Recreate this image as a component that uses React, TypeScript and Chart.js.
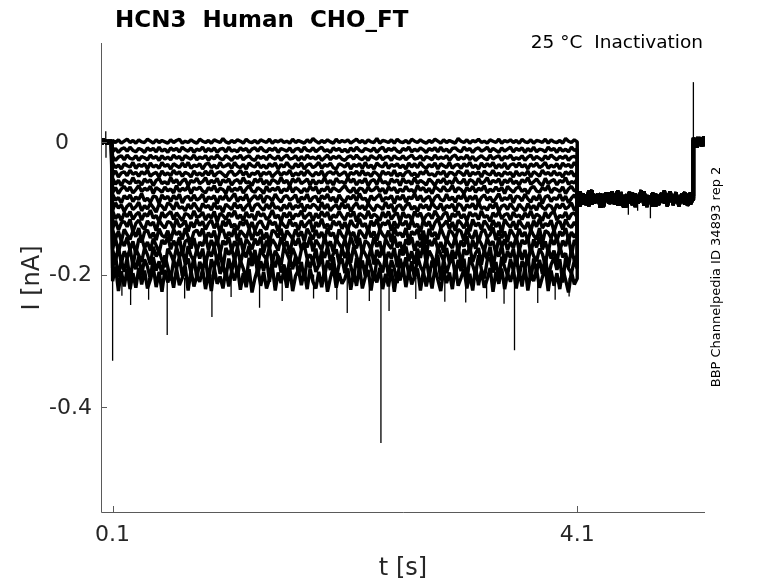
import React, { useEffect, useRef } from "react";
import { Chart, registerables } from "chart.js";

Chart.register(...registerables);

// ---- axis ticks ----
const xTickValues = [0.1, 4.1];
const xTickLabels = ["0.1", "4.1"];
const yTickValues = [0, -0.2, -0.4];
const yTickLabels = ["0", "-0.2", "-0.4"];

// ---- sweep data (currents in pA, times in s) ----
const headT = [0, 0.01, 0.02, 0.03, 0.04, 0.05, 0.06, 0.07, 0.08, 0.09];
const headV = [2, -3, 4, -1, 3, -4, 1, -2, 3, -1];

const preT = [
  0.1, 0.125, 0.15, 0.175, 0.2, 0.225, 0.25, 0.275, 0.3, 0.325, 0.35, 0.375, 0.4, 0.425, 0.45, 0.475, 0.5, 0.525, 0.55, 0.575,
  0.6, 0.625, 0.65, 0.675, 0.7, 0.725, 0.75, 0.775, 0.8, 0.825, 0.85, 0.875, 0.9, 0.925, 0.95, 0.975, 1, 1.025, 1.05, 1.075,
  1.1, 1.125, 1.15, 1.175, 1.2, 1.225, 1.25, 1.275, 1.3, 1.325, 1.35, 1.375, 1.4, 1.425, 1.45, 1.475, 1.5, 1.525, 1.55, 1.575,
  1.6, 1.625, 1.65, 1.675, 1.7, 1.725, 1.75, 1.775, 1.8, 1.825, 1.85, 1.875, 1.9, 1.925, 1.95, 1.975, 2, 2.025, 2.05, 2.075,
  2.1, 2.125, 2.15, 2.175, 2.2, 2.225, 2.25, 2.275, 2.3, 2.325, 2.35, 2.375, 2.4, 2.425, 2.45, 2.475, 2.5, 2.525, 2.55, 2.575,
  2.6, 2.625, 2.65, 2.675, 2.7, 2.725, 2.75, 2.775, 2.8, 2.825, 2.85, 2.875, 2.9, 2.925, 2.95, 2.975, 3, 3.025, 3.05, 3.075,
  3.1, 3.125, 3.15, 3.175, 3.2, 3.225, 3.25, 3.275, 3.3, 3.325, 3.35, 3.375, 3.4, 3.425, 3.45, 3.475, 3.5, 3.525, 3.55, 3.575,
  3.6, 3.625, 3.65, 3.675, 3.7, 3.725, 3.75, 3.775, 3.8, 3.825, 3.85, 3.875, 3.9, 3.925, 3.95, 3.975, 4, 4.025, 4.05, 4.075,
  4.1,
];

const sweepLevels = [0, -12, -24, -36, -48, -60, -72, -85, -98, -111, -124, -138, -152, -167, -182, -200];

const dev0 = [
  2, -1, 3, -2, 1, 4, -1, 2, -2, 3, 0, -1, 4, 1, -2, 3, -1, 2, 0, -2,
  3, -1, 2, 4, -2, 1, -1, 3, 0, -2, 4, 1, -1, 2, -2, 3, 1, -1, 5, 0,
  -2, 2, -1, 3, 1, -2, 4, 0, -1, 2, -2, 3, 1, -1, 4, -2, 2, 0, 3, -1,
  1, -2, 4, -1, 2, 0, -2, 3, -1, 5, 1, -2, 2, -1, 3, 0, -2, 4, -1, 2,
  0, 3, -2, 1, 4, -1, 2, -2, 3, 0, -1, 5, -2, 2, 1, -1, 3, -2, 4, 0,
  -1, 2, -2, 4, 1, -1, 3, 0, -2, 2, -1, 4, 1, -2, 3, -1, 2, 0, -2, 5,
  1, -1, 3, -2, 2, 0, 4, -1, 1, -2, 3, 1, -1, 4, -2, 2, 0, 3, -1, 2,
  -2, 4, 0, -1, 3, -2, 2, 1, -1, 4, -2, 3, 0, -1, 2, -2, 5, 1, -1, 3,
  0,
];
const dev1 = [
  -3, 2, -4, 1, 3, -2, 4, -1, -3, 2, 0, -4, 3, -1, 2, -3, 4, -2, 1, -4,
  3, -1, 2, -3, 4, 0, -2, 3, -4, 1, -1, 4, -3, 2, -2, 3, -4, 1, 2, -3,
  4, -2, 0, -3, 3, -1, 2, -4, 1, 3, -2, 4, -1, -3, 2, -1, 3, -4, 2, 0,
  -2, 3, -4, 1, 2, -3, 4, -1, -2, 3, -3, 1, 4, -2, 0, -4, 3, -1, 2, -3,
  1, -4, 3, -2, 4, -1, -3, 2, 0, -2, 3, -4, 1, 4, -3, 2, -1, 3, -2, -4,
  2, -1, 4, -3, 1, -2, 3, 0, -4, 2, -1, 3, -3, 4, -2, 1, -4, 2, 3, -1,
  -3, 4, -1, 2, -4, 1, 3, -2, 0, 4, -3, 2, -1, -4, 3, -2, 1, 4, -3, 2,
  -1, 3, -4, 2, -2, 4, -3, 1, 0, -3, 4, -1, 2, -4, 3, -2, 1, -3, 4, -1,
  1,
];
const dev2 = [
  2, -4, 1, 3, -3, 4, -1, -2, 3, -4, 2, 0, -3, 4, -1, 2, -4, 3, -2, 1,
  -3, 4, -1, 2, -4, 3, 0, -2, 4, -3, 1, -1, 3, -4, 2, -2, 4, -1, -3, 3,
  0, -4, 2, -1, 4, -3, 1, 3, -2, -4, 3, -1, 2, -3, 4, 0, -2, 3, -4, 1,
  4, -2, -1, 3, -4, 2, -3, 4, -1, 1, -2, 3, -4, 0, 4, -3, 2, -1, 3, -2,
  -4, 1, 3, -2, 4, -1, -3, 2, -4, 3, 0, -2, 4, -3, 1, 2, -4, 3, -1, -2,
  3, -3, 1, 4, -2, -1, 3, -4, 2, 0, -3, 4, -2, 1, -1, 3, -4, 2, 4, -3,
  1, -2, 4, -3, 2, -4, 0, 3, -1, -3, 4, -2, 1, 3, -4, 2, -1, 4, -3, 0,
  -2, 3, -4, 1, 4, -3, 2, -1, -4, 3, -2, 4, 0, -3, 2, -1, 3, -4, 1, 2,
  -1,
];
const dev3 = [
  4, -3, 1, -5, 3, 0, -2, 5, -4, 2, -1, 3, -5, 4, -2, 1, -4, 5, -1, 2,
  -5, 3, 0, -3, 4, -2, 5, -4, 1, -1, 3, -5, 2, 4, -3, 1, -4, 5, -2, 0,
  3, -4, 5, -1, -3, 2, -5, 4, 0, -2, 5, -3, 1, -4, 3, -1, 4, -5, 2, -2,
  5, -1, -4, 3, -2, 4, -5, 1, 3, -3, 0, 5, -4, 2, -1, 4, -3, -5, 3, 1,
  -2, 4, -5, 2, -1, 3, -4, 5, -3, 1, -5, 4, 0, -2, 5, -4, 2, -1, 3, -3,
  1, -5, 4, -2, 3, -3, 5, -1, -4, 2, -2, 4, -5, 3, 0, -3, 5, -4, 1, 2,
  -4, 3, -1, 5, -3, 1, -5, 4, -2, 3, -1, 5, -4, 2, -3, 4, -5, 1, 3, -2,
  4, -2, 2, -5, 3, -1, 4, -3, 0, 5, -4, 1, -2, 3, -5, 4, -1, 2, -3, 5,
  -1,
];
const dev4 = [
  -2, 4, -5, 1, 3, -3, 5, -1, 2, -4, 3, -1, 5, -4, 0, 2, -5, 4, -2, 1,
  -3, 5, -1, 3, -4, 2, 0, -5, 4, -2, 1, -3, 4, -2, 5, -4, 1, 3, -1, -5,
  2, 4, -3, 0, 5, -2, 3, -5, 1, -1, 4, -4, 2, -1, 3, -5, 0, 4, -3, 2,
  -1, 5, -4, 1, -2, 3, -3, 5, 0, -4, 2, -2, 4, -5, 1, 3, -1, 4, -3, 0,
  3, -5, 2, -1, 4, -3, 5, -2, 1, -4, 3, 0, -5, 4, -1, 2, -3, 5, -4, 1,
  -4, 2, 4, -3, 1, -5, 3, -1, 5, -2, 0, -4, 3, -1, 4, -5, 2, 1, -3, 4,
  1, -3, 5, -4, 2, -1, 3, -5, 4, 0, -2, 5, -3, 1, -4, 3, -1, 2, -5, 4,
  -3, 1, -2, 4, -5, 3, 0, -4, 5, -1, 2, -3, 4, -2, 1, -5, 3, -1, 4, -4,
  2,
];
const dev5 = [
  5, -4, 2, -6, 3, 0, -3, 6, -2, 1, -5, 4, -1, 3, -6, 2, 5, -3, 0, -4,
  6, -2, 3, -5, 1, 4, -6, 2, -1, 5, -3, 0, 6, -4, 2, -2, 5, -6, 3, -1,
  4, -5, 1, 3, -3, 6, -2, 0, -6, 4, -1, 5, -4, 2, -5, 3, 1, -3, 6, -2,
  2, -6, 4, -1, 5, -3, 0, 4, -5, 3, -4, 1, -2, 6, -3, 2, -5, 5, -1, 0,
  -3, 6, -1, 4, -5, 2, -2, 5, -6, 1, 3, -4, 6, -2, 0, -5, 4, -1, 3, -6,
  5, -2, 1, -4, 6, -3, 2, -1, -5, 4, 0, -6, 3, -2, 5, -4, 1, -3, 6, -1,
  -2, 4, -6, 3, 1, -5, 5, -3, 0, 6, -4, 2, -1, 4, -6, 3, -2, 5, -3, 1,
  -5, 3, -1, 6, -4, 0, 4, -2, -6, 5, -3, 1, 3, -5, 2, -1, 6, -4, 0, -2,
  4,
];
const dev6 = [
  -4, 3, -6, 1, 5, -2, 4, -5, 0, 6, -3, 2, -1, 5, -6, 3, 0, -4, 4, -2,
  1, -5, 6, -3, 2, -1, 5, -6, 3, 0, 4, -2, -5, 3, -1, 6, -4, 2, 0, -6,
  5, -3, 2, -1, 4, -5, 1, 6, -2, -4, 3, 0, -6, 5, -3, 2, -1, 4, -5, 1,
  -2, 6, -4, 3, 0, -5, 2, -3, 5, -1, 4, -6, 1, -2, 5, -4, 3, 0, -3, 2,
  6, -1, -4, 3, -6, 2, 1, -5, 4, -2, 0, 5, -3, 2, -6, 4, -1, 3, -5, 1,
  -3, 5, -2, 0, -5, 6, -1, 3, -4, 2, -6, 4, 1, -3, 5, -2, -1, 6, -4, 3,
  0, -6, 3, -2, 5, -4, 2, -1, 6, -5, 1, -3, 4, -2, 3, -6, 5, 0, -4, 2,
  4, -3, 1, -6, 2, 5, -2, -4, 3, -1, 6, -5, 2, 0, -3, 4, -6, 1, 5, -2,
  -1,
];
const dev7 = [
  6, -3, 1, -7, 4, -1, 5, -5, 2, -2, 7, -4, 0, -6, 3, 2, -8, 5, -1, 3,
  -5, 4, -2, 6, -7, 1, 3, -4, 5, -3, 0, 6, -6, 2, -1, 4, -8, 3, -2, 5,
  -4, 1, 7, -5, 2, -3, 6, -6, 0, 4, -2, 5, -7, 3, 1, -4, 6, -1, -6, 2,
  4, -3, 0, 5, -7, 2, -2, 6, -5, 1, 3, -6, 4, -1, 6, -4, 2, -7, 5, -2,
  -6, 3, -1, 5, -4, 7, -2, 0, -7, 4, -3, 2, 6, -5, 1, -1, 4, -8, 3, -2,
  5, -6, 2, -1, 7, -3, 4, -5, 0, 3, -7, 1, 5, -2, -4, 6, -3, 2, -6, 4,
  -1, 6, -5, 3, -2, 4, -7, 1, 5, -3, 2, -6, 0, 7, -4, 1, -2, 5, -7, 3,
  2, -4, 6, -1, -6, 3, -3, 5, -8, 2, 4, -5, 1, -2, 6, -4, 3, -7, 0, 5,
  -2,
];
const dev8 = [
  -5, 6, -2, 3, -7, 1, 5, -4, 0, 7, -6, 2, -3, 5, -1, -8, 4, 1, -5, 6,
  3, -4, 7, -2, 0, -6, 4, -3, 6, -1, -7, 5, -1, 2, -5, 6, -3, 1, -8, 4,
  0, -4, 6, -2, 3, -6, 1, 5, -7, 2, 5, -1, -5, 4, -3, 7, -2, 0, -6, 3,
  -3, 6, -4, 2, -1, 5, -7, 3, -2, 4, 1, -5, 7, -3, 4, -6, 0, 3, -4, 6,
  -2, 4, -7, 1, 6, -3, 2, -5, 5, -1, -6, 3, 0, -4, 7, -2, 4, -8, 1, 3,
  -5, 2, 6, -4, 1, -7, 4, -2, 3, -5, 6, 0, -3, 5, -6, 2, -1, 4, -7, 5,
  2, -6, 3, -1, 5, -4, 7, -3, 0, -5, 4, -2, 6, -7, 1, 3, -4, 5, -2, -6,
  4, -1, -6, 5, -3, 2, -5, 6, -1, -4, 3, 1, -7, 4, -2, 5, -3, 0, 6, -5,
  1,
];
const dev9 = [
  7, -5, 2, -8, 4, -2, 6, -6, 1, 5, -7, 3, -1, 8, -4, 0, -9, 5, -3, 2,
  6, -6, 4, -2, -8, 3, 1, -5, 7, -3, -1, 5, -7, 2, -4, 6, -10, 3, 0, -6,
  4, -2, 7, -5, 1, -8, 5, -3, 2, -7, 6, -1, 3, -6, -2, 8, -4, 1, -9, 4,
  -3, 5, -6, 2, -1, 7, -5, 0, 4, -8, 3, -4, 6, -2, 5, -7, 1, -3, 6, -1,
  -7, 4, -2, 6, -9, 3, 0, -5, 7, -4, 2, -1, -8, 5, -3, 6, -6, 1, 4, -10,
  5, -3, 1, -7, 6, -2, 4, -8, 0, 3, -5, 7, -1, -6, 2, 5, -9, 3, -2, 6,
  -4, 2, -8, 5, -1, 3, -6, 7, -3, 0, -9, 4, -2, 6, -5, 1, 3, -7, 5, -2,
  1, -6, 4, -3, 7, -5, 2, -1, -8, 5, -4, 3, 6, -7, 0, -3, 5, -6, 2, 4,
  -3,
];
const dev10 = [
  -6, 5, -9, 2, 4, -4, 7, -12, 1, 6, -3, -8, 5, -2, 3, -10, 6, -1, -6, 4,
  2, -7, 8, -4, -1, 5, -11, 3, -5, 7, -2, 4, -8, 1, 6, -6, 2, -13, 5, -3,
  7, -5, 0, -9, 4, -2, 6, -7, 3, -10, 1, 5, -4, -8, 6, -1, 3, -11, 4, -2,
  -6, 7, -3, 2, -9, 5, -5, 1, 6, -12, 3, -4, 8, -6, 0, -8, 5, -2, 4, -7,
  3, -9, 6, -2, -5, 8, -4, 1, -11, 5, -3, 7, -7, 2, -1, 6, -10, 4, -6, 3,
  -2, 5, -8, 7, -4, 0, -12, 6, -3, 4, -9, 2, 8, -5, -1, 5, -7, 3, -10, 6,
  1, -6, 4, -11, 7, -3, 2, -8, 5, -1, -9, 6, -4, 3, -13, 7, 0, -5, 4, -8,
  6, -2, -7, 3, -10, 5, -4, 8, -6, 1, -3, 6, -11, 2, 4, -8, 7, -2, -5, 3,
  -4,
];
const dev11 = [
  5, -8, 3, -12, 6, -2, -9, 4, -5, 8, -14, 2, 5, -7, 1, -10, 7, -3, -6, 4,
  -11, 6, -2, 3, -9, 8, -5, -13, 2, 5, -4, 7, -10, 1, -6, 4, -15, 3, 6, -8,
  2, -5, 8, -12, 4, -1, -7, 6, -10, 3, -3, 6, -9, 1, -14, 5, 2, -6, 7, -11,
  4, -2, -8, 6, -5, 3, -12, 7, -1, -9, 5, -7, 2, -10, 8, -4, 1, -13, 6, -3,
  -9, 7, -4, 2, -15, 5, -1, -8, 8, -6, 3, -11, 6, -2, -7, 4, -13, 9, -3, 1,
  -6, 8, -12, 3, -2, 6, -10, 4, -16, 7, -5, 2, -9, 8, -3, -12, 5, 1, -8, 6,
  3, -11, 7, -4, -8, 5, -14, 2, 6, -6, -2, 9, -10, 4, -7, 3, -13, 6, -1, -9,
  7, -5, 2, -12, 6, -3, -9, 8, -15, 4, 1, -7, 5, -11, 3, -4, 8, -10, 2, -6,
  2,
];
const dev12 = [
  -9, 6, -14, 3, -5, 8, -11, 2, -17, 5, 7, -8, 1, -12, 6, -4, -15, 4, -2, 9,
  -10, 3, -6, 8, -18, 2, 5, -9, 7, -13, 1, -5, 9, -11, 4, -7, 6, -16, 3, -3,
  8, -12, 2, -6, 7, -14, 5, -1, -10, 6, -4, 9, -15, 3, -8, 5, -2, -12, 8, -6,
  2, -17, 6, -4, 7, -10, 1, -7, 9, -13, 4, -3, -11, 8, -6, 2, -14, 6, -2, -9,
  5, -13, 9, -4, -8, 7, -16, 3, -1, -11, 8, -6, 2, -19, 6, -3, -9, 10, -7, 1,
  -14, 5, -3, 8, -12, 2, -7, 9, -18, 4, -5, 7, -10, 1, -15, 6, -2, -8, 9, -13,
  3, -6, 10, -15, 4, -9, 6, -2, -13, 7, -4, 2, -17, 8, -6, 5, -11, 1, -8, 9,
  -12, 4, -2, 7, -16, 5, -7, 9, -10, 2, -14, 6, -3, 8, -12, 3, -5, 10, -19, 4,
  -3,
];
const dev13 = [
  4, -12, 8, -16, 2, -8, 6, -20, 5, -4, -14, 7, -3, -18, 9, -6, 3, -11, -22, 6,
  -2, -13, 8, -7, 4, -17, 10, -5, -12, 5, -9, 6, -19, 3, -6, 9, -14, 1, -24, 7,
  -3, 5, -11, 8, -16, 2, -7, 10, -13, 4, -20, 6, -4, -10, 9, -15, 3, -6, -19, 8,
  -1, -12, 7, -5, -17, 4, 11, -9, -3, -14, 6, -21, 3, -8, 9, -13, -2, 5, -16, 7,
  -8, 3, -15, 9, -5, -20, 6, -2, -11, 8, -18, 4, -7, 10, -14, 1, -9, 7, -22, 5,
  -4, 9, -13, 2, -17, 6, -8, 11, -15, 3, -6, -21, 8, -2, -12, 7, -16, 4, -9, 10,
  -19, 5, -3, 8, -14, -1, 7, -18, 4, -10, 9, -23, 3, -6, 11, -15, 2, -8, 6, -20,
  7, -11, 4, -17, 9, -5, -13, 6, -2, -19, 8, -9, 3, -15, 10, -7, -1, -21, 5, -12,
  -4,
];
const dev14 = [
  -8, 10, -22, 4, -14, 7, -28, 3, -10, 9, -19, 5, -6, -25, 8, -12, 2, -18, 11, -7,
  -27, 4, -9, 8, -20, -3, 6, -16, 9, -24, 1, -11, 7, -30, 5, -8, 10, -17, -4, -22,
  6, -14, 9, -21, 3, -9, -26, 7, -5, 11, -18, 2, -12, 8, -29, 4, -7, 10, -15, -3,
  -23, 6, -10, 9, -19, 1, -27, 5, -8, 7, -14, -4, 10, -20, 3, -11, 8, -25, -2, 6,
  -16, 9, -5, -24, 7, -12, 3, -20, 10, -8, -28, 5, -2, -15, 11, -21, 4, -9, -31, 6,
  -11, 8, -19, 2, -25, 10, -6, -14, 7, -22, 3, -9, 12, -27, 5, -16, -1, 9, -20, 4,
  -13, 6, -29, 8, -4, -18, 11, -10, -24, 3, 7, -15, 1, -26, 9, -7, -19, 5, -12, 10,
  -21, 2, -8, 11, -27, 6, -14, 4, -17, 9, -23, -3, 8, -11, 5, -30, 7, -9, -16, 3,
  -9,
];
const dev15 = [
  -10, 12, -25, 5, -18, 8, -22, 2, -20, 10, -15, 6, -21, -8, 11, -19, 4, -26, 7, -12,
  3, -20, 9, -16, -5, 12, -24, 6, -18, -2, -11, 8, -22, 4, -25, 10, -14, -3, -21, 7,
  -18, 5, -9, 11, -23, 2, -19, 8, -27, -6, 9, -17, 4, -21, -7, 12, -24, 3, -13, 6,
  -20, 10, -25, -2, 7, -16, 5, -22, 9, -11, -21, 4, -19, 8, -26, -5, 11, -20, 2, -14,
  -6, 9, -23, 3, -17, 12, -21, -4, 7, -24, 5, -12, 10, -22, 1, -18, 8, -26, 4, -9,
  11, -19, 6, -15, -3, 9, -24, 5, -18, 2, -21, 10, -8, -25, 7, -13, 3, -22, 12, -17,
  -5, 8, -21, 1, -24, 11, -16, 6, -20, -7, 10, -26, 4, -14, 9, -22, 2, -11, 7, -21,
  5, -18, 12, -24, 3, -10, 8, -20, -4, 11, -25, 6, -17, 2, -22, 9, -8, -27, 4, -15,
  -6,
];

const testT = [
  4.1, 4.125, 4.15, 4.175, 4.2, 4.225, 4.25, 4.275, 4.3, 4.325, 4.35, 4.375, 4.4, 4.425, 4.45, 4.475, 4.5, 4.525, 4.55, 4.575,
  4.6, 4.625, 4.65, 4.675, 4.7, 4.725, 4.75, 4.775, 4.8, 4.825, 4.85, 4.875, 4.9, 4.925, 4.95, 4.975, 5, 5.025, 5.05, 5.075,
  5.1,
];
const testA = [
  -76, -91, -79, -95, -83, -73, -92, -86, -78, -98, -82, -89, -75, -94, -84, -79, -99, -85, -76, -93,
  -83, -90, -73, -96, -81, -88, -77, -97, -84, -78, -92, -86, -75, -95, -82, -90, -79, -94, -85, -77,
  -88,
];
const testB = [
  -87, -75, -94, -80, -97, -74, -89, -83, -99, -79, -88, -77, -93, -82, -74, -96, -85, -80, -92, -77,
  -98, -81, -89, -76, -93, -83, -97, -79, -94, -86, -74, -97, -82, -90, -78, -94, -84, -76, -96, -88,
  -82,
];
const testC = [
  -81, -97, -78, -89, -74, -94, -85, -79, -99, -84, -77, -93, -86, -80, -96, -76, -90, -98, -82, -95,
  -78, -92, -85, -75, -98, -81, -89, -79, -95, -86, -77, -94, -83, -92, -76, -97, -82, -89, -79, -94,
  -85,
];

const tailT = [5.1, 5.11, 5.12, 5.13, 5.14, 5.15, 5.16, 5.17, 5.18, 5.19, 5.2];
const tailA = [3, -6, 5, -2, 7, -4, 2, -7, 4, -1, 6];
const tailB = [-5, 4, -8, 6, -2, 5, -6, 3, -4, 8, -1];
const tailC = [6, -3, 2, -9, 5, -1, 7, -5, 1, -6, 3];

// brief transients: [time s, from pA, to pA]
const spikes: [number, number, number][] = [
  [0.041, 0, 16], [0.043, 0, -24],
  [0.1, 0, -330],
  [0.18, -205, -232], [0.255, -200, -246], [0.41, -205, -238], [0.57, -190, -291], [0.72, -205, -236],
  [0.955, -200, -264], [1.12, -205, -234], [1.365, -200, -250], [1.56, -205, -240], [1.83, -200, -236],
  [2.03, -205, -238], [2.12, -200, -258], [2.31, -205, -240], [2.41, -200, -454], [2.48, -190, -255],
  [2.71, -205, -237], [2.96, -205, -241], [3.14, -200, -242], [3.32, -205, -236], [3.47, -205, -244],
  [3.56, -190, -314], [3.76, -205, -243], [3.91, -205, -238], [4.03, -205, -233],
  [4.54, -90, -110], [4.73, -90, -115], [4.62, -90, -104],
  [5.1, -85, 90],
];

const deviations = [dev0, dev1, dev2, dev3, dev4, dev5, dev6, dev7, dev8, dev9, dev10, dev11, dev12, dev13, dev14, dev15];
const testSets = [testA, testB, testC];
const tailSets = [tailA, tailB, tailC];

function buildSweep(k: number) {
  const pts: { x: number; y: number }[] = [];
  headT.forEach((t, i) => pts.push({ x: t, y: headV[i] / 1000 }));
  const dev = deviations[k];
  const n = Math.min(preT.length, dev.length);
  for (let i = 0; i < n; i++) pts.push({ x: preT[i], y: (sweepLevels[k] + dev[i]) / 1000 });
  const tv = testSets[k % 3];
  const nt = Math.min(testT.length, tv.length);
  for (let i = 0; i < nt; i++) pts.push({ x: testT[i], y: tv[i] / 1000 });
  const tl = tailSets[k % 3];
  tailT.forEach((t, i) => pts.push({ x: t, y: tl[i] / 1000 }));
  return pts;
}

const FONT = '"DejaVu Sans", sans-serif';

const textPlugin = {
  id: "matlabText",
  afterDraw(chart: any) {
    const ctx = chart.ctx as CanvasRenderingContext2D;
    const area = chart.chartArea;
    const xs = chart.scales.x;
    const ys = chart.scales.y;
    ctx.save();
    ctx.strokeStyle = "#5a5a5a";
    ctx.lineWidth = 1;
    ctx.beginPath();
    ctx.moveTo(area.left + 0.5, area.top);
    ctx.lineTo(area.left + 0.5, area.bottom + 0.5);
    ctx.lineTo(area.right, area.bottom + 0.5);
    ctx.stroke();
    ctx.beginPath();
    xTickValues.forEach((v) => {
      const px = Math.round(xs.getPixelForValue(v)) + 0.5;
      ctx.moveTo(px, area.bottom);
      ctx.lineTo(px, area.bottom - 6);
    });
    yTickValues.forEach((v) => {
      const py = Math.round(ys.getPixelForValue(v)) + 0.5;
      ctx.moveTo(area.left, py);
      ctx.lineTo(area.left + 6, py);
    });
    ctx.stroke();

    ctx.fillStyle = "#262626";
    ctx.font = `22px ${FONT}`;
    ctx.textAlign = "center";
    ctx.textBaseline = "alphabetic";
    xTickValues.forEach((v, i) => {
      ctx.fillText(xTickLabels[i], xs.getPixelForValue(v), area.bottom + 29);
    });
    ctx.textAlign = "right";
    ctx.textBaseline = "middle";
    yTickValues.forEach((v, i) => {
      const right = v === 0 ? area.left - 32 : area.left - 9;
      ctx.fillText(yTickLabels[i], right, ys.getPixelForValue(v) + 1);
    });

    ctx.font = `24px ${FONT}`;
    ctx.textAlign = "center";
    ctx.textBaseline = "alphabetic";
    ctx.fillText("t [s]", (area.left + area.right) / 2, area.bottom + 63);
    ctx.save();
    ctx.translate(39, 278);
    ctx.rotate(-Math.PI / 2);
    ctx.fillText("I [nA]", 0, 0);
    ctx.restore();

    ctx.fillStyle = "#000";
    ctx.font = `bold 23px ${FONT}`;
    ctx.textAlign = "left";
    ctx.fillText("HCN3  Human  CHO_FT", 115, 27);

    ctx.font = `18.5px ${FONT}`;
    ctx.textAlign = "right";
    ctx.fillText("25 °C  Inactivation", 703, 48);

    ctx.save();
    ctx.translate(720, 277);
    ctx.rotate(-Math.PI / 2);
    ctx.font = `13px ${FONT}`;
    ctx.textAlign = "center";
    ctx.fillText("BBP Channelpedia ID 34893 rep 2", 0, 0);
    ctx.restore();

    ctx.restore();
  },
};

export default function App() {
  const ref = useRef<HTMLCanvasElement | null>(null);
  useEffect(() => {
    if (!ref.current) return;
    const sweepSets = sweepLevels.map((_, k) => ({
      data: buildSweep(k),
      borderColor: "#000",
      borderWidth: 3.4,
      borderJoinStyle: "bevel",
      pointRadius: 0,
      tension: 0,
      fill: false,
    }));
    const spikeSets = spikes.map((s) => ({
      data: [{ x: s[0], y: s[1] / 1000 }, { x: s[0], y: s[2] / 1000 }],
      borderColor: "#000",
      borderWidth: 1.3,
      pointRadius: 0,
      tension: 0,
      fill: false,
    }));
    const chart = new Chart(ref.current, {
      type: "line",
      data: { datasets: [...sweepSets, ...spikeSets] },
      options: {
        responsive: false,
        animation: false,
        events: [],
        layout: { padding: { left: 101, right: 73, top: 43, bottom: 71 } },
        scales: {
          x: { type: "linear", display: false, min: 0, max: 5.2 },
          y: { type: "linear", display: false, min: -0.558, max: 0.149 },
        },
        plugins: { legend: { display: false }, tooltip: { enabled: false }, title: { display: false } },
      },
      plugins: [textPlugin],
    } as any);
    return () => chart.destroy();
  }, []);
  return (
    <div style={{ position: "fixed", left: 0, top: 0, width: 778, height: 583, background: "#fff" }}>
      <canvas ref={ref} width={778} height={583} />
    </div>
  );
}
